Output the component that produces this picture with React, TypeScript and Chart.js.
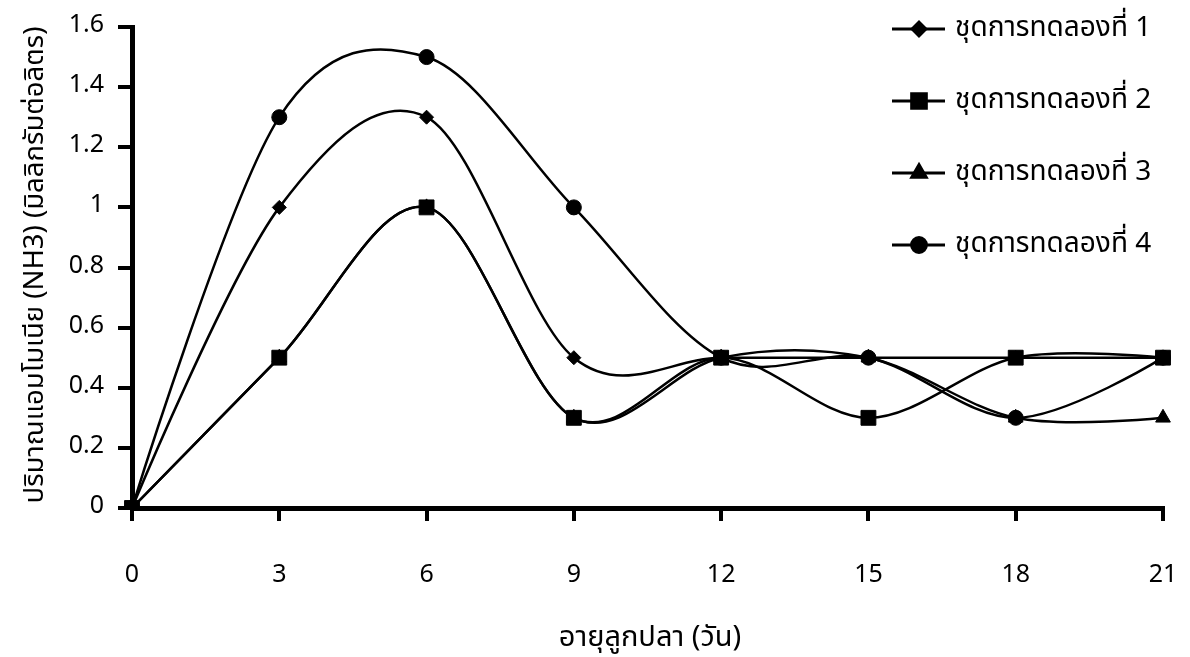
import React, { useEffect, useRef } from 'react';
import { Chart, registerables } from 'chart.js';
import { drawPoint } from 'chart.js/helpers';

Chart.register(...registerables);

const days = ['0', '3', '6', '9', '12', '15', '18', '21'];
const set1 = [0, 1.0, 1.3, 0.5, 0.5, 0.5, 0.5, 0.5];
const set2 = [0, 0.5, 1.0, 0.3, 0.5, 0.3, 0.5, 0.5];
const set3 = [0, 0.5, 1.0, 0.3, 0.5, 0.5, 0.3, 0.3];
const set4 = [0, 1.3, 1.5, 1.0, 0.5, 0.5, 0.3, 0.5];
const seriesNames = ['ชุดการทดลองที่ 1', 'ชุดการทดลองที่ 2', 'ชุดการทดลองที่ 3', 'ชุดการทดลองที่ 4'];
const yTitle = 'ปริมาณแอมโมเนีย (NH3) (มิลลิกรัมต่อลิตร)';
const xTitle = 'อายุลูกปลา (วัน)';

const FONT = "'Noto Sans Thai', 'Noto Sans', 'Liberation Sans', sans-serif";

// Excel-like smoothing: uniform Catmull-Rom control points (1/6 of neighbour span)
const smoothPlugin = {
  id: 'excelSmooth',
  beforeDatasetsDraw(chart: any) {
    chart.getSortedVisibleDatasetMetas().forEach((meta: any) => {
      const line = meta.dataset;
      if (!line) return;
      line.updateControlPoints(chart.chartArea, 'x');
      const pts = meta.data;
      const n = pts.length;
      for (let i = 0; i < n; i++) {
        const p = pts[i];
        if (i === 0 || i === n - 1) {
          p.cp1x = p.x; p.cp1y = p.y; p.cp2x = p.x; p.cp2y = p.y;
          continue;
        }
        const dx = (pts[i + 1].x - pts[i - 1].x) / 6;
        const dy = (pts[i + 1].y - pts[i - 1].y) / 6;
        p.cp1x = p.x - dx; p.cp1y = p.y - dy;
        p.cp2x = p.x + dx; p.cp2y = p.y + dy;
      }
      line._path = undefined;
    });
  },
};

const overlayPlugin = {
  id: 'overlay',
  afterDraw(chart: any) {
    const ctx = chart.ctx;
    ctx.save();
    ctx.fillStyle = '#000';
    ctx.strokeStyle = '#000';
    ctx.textBaseline = 'middle';
    ctx.font = `28px ${FONT}`;
    chart.data.datasets.forEach((ds: any, i: number) => {
      const y = 29 + 72 * i;
      ctx.lineWidth = 2.8;
      ctx.beginPath();
      ctx.moveTo(892, y);
      ctx.lineTo(945, y);
      ctx.stroke();
      drawPoint(ctx, { pointStyle: ds.pointStyle, radius: ds.pointRadius, rotation: 0, borderWidth: 1 }, 919, y);
      ctx.textAlign = 'left';
      ctx.fillText(ds.label, 955, y + 1);
    });
    // axis titles
    ctx.textAlign = 'center';
    ctx.font = `29px ${FONT}`;
    ctx.fillText(xTitle, 650, 640);
    ctx.font = `27.5px ${FONT}`;
    ctx.save();
    ctx.translate(37, 265);
    ctx.rotate(-Math.PI / 2);
    ctx.fillText(yTitle, 0, 0);
    ctx.restore();
    ctx.restore();
  },
};

export default function App() {
  const ref = useRef<HTMLCanvasElement>(null);
  useEffect(() => {
    document.body.style.margin = '0';
    const mk = (label: string, data: number[], style: string, r: number, order: number) => ({
      label,
      data,
      pointStyle: style,
      pointRadius: r,
      pointHoverRadius: r,
      pointBackgroundColor: '#000',
      pointBorderColor: '#000',
      pointBorderWidth: 1,
      borderColor: '#000',
      backgroundColor: '#000',
      borderWidth: 2.5,
      tension: 0.4,
      fill: false,
      order,
    });
    const chart = new Chart(ref.current!, {
      type: 'line',
      data: {
        labels: days,
        datasets: [
          mk(seriesNames[0], set1, 'rectRot', 7, 3),
          mk(seriesNames[1], set2, 'rect', 10.5, 0),
          mk(seriesNames[2], set3, 'triangle', 8.5, 1),
          mk(seriesNames[3], set4, 'circle', 7.5, 2),
        ],
      },
      options: {
        responsive: false,
        animation: false,
        layout: { padding: { top: 27, right: 27, bottom: 0, left: 0 } },
        plugins: { legend: { display: false }, tooltip: { enabled: false } },
        scales: {
          x: {
            type: 'category',
            offset: false,
            grid: { drawOnChartArea: false, drawTicks: true, tickLength: 13, color: '#000', lineWidth: 4 },
            border: { color: '#000', width: 5 },
            ticks: { color: '#000', font: { size: 25, family: FONT }, padding: 41, maxRotation: 0 },
            afterFit: (s: any) => { s.height = 149; s.paddingLeft = 0; s.paddingRight = 0; },
          },
          y: {
            min: 0,
            max: 1.6,
            grid: { drawOnChartArea: false, drawTicks: true, tickLength: 14, color: '#000', lineWidth: 4 },
            border: { color: '#000', width: 5 },
            ticks: {
              stepSize: 0.2,
              color: '#000',
              font: { size: 25, family: FONT },
              padding: 14,
              callback: (v: any) => String(Number(Number(v).toFixed(1))),
            },
            afterFit: (s: any) => { s.width = 132; s.paddingTop = 0; s.paddingBottom = 0; },
          },
        },
      },
      plugins: [smoothPlugin, overlayPlugin],
    } as any);
    return () => chart.destroy();
  }, []);
  return (
    <div style={{ position: 'absolute', left: 0, top: 0, width: 1190, height: 657, background: '#fff' }}>
      <canvas ref={ref} width={1190} height={657} />
    </div>
  );
}
